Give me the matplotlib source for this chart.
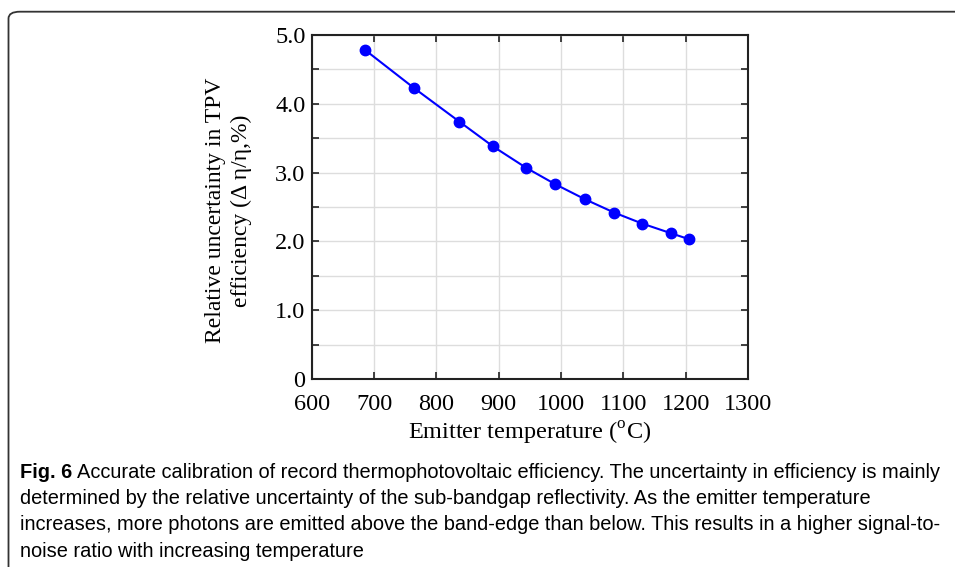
import numpy as np
import matplotlib
matplotlib.use("Agg")
import matplotlib.pyplot as plt
from matplotlib.patches import FancyBboxPatch

# data
temperature = [686, 764, 837, 891, 944, 991, 1039, 1085, 1130, 1176, 1206]
uncertainty = [4.78, 4.23, 3.74, 3.38, 3.07, 2.83, 2.61, 2.42, 2.26, 2.12, 2.03]

x_ticks = [600, 700, 800, 900, 1000, 1100, 1200, 1300]
y_ticks = [0, 0.5, 1.0, 1.5, 2.0, 2.5, 3.0, 3.5, 4.0, 4.5, 5.0]
y_tick_labels = ["0", "", "1.0", "", "2.0", "", "3.0", "", "4.0", "", "5.0"]

caption_lines = [
    "Accurate calibration of record thermophotovoltaic efficiency. The uncertainty in efficiency is mainly",
    "determined by the relative uncertainty of the sub-bandgap reflectivity. As the emitter temperature",
    "increases, more photons are emitted above the band-edge than below. This results in a higher signal-to-",
    "noise ratio with increasing temperature",
]

plt.rcParams["font.family"] = ["Liberation Serif", "DejaVu Serif"]
plt.rcParams["mathtext.fontset"] = "custom"
plt.rcParams["mathtext.rm"] = "Liberation Serif"

W, H = 955, 567
fig = plt.figure(figsize=(W / 100, H / 100), dpi=100)

# caption frame with rounded corner (open to the right and bottom)
frame = FancyBboxPatch((8.5 / W, -0.2), 1.2, 1 - 11.7 / H + 0.2,
                       boxstyle="round,pad=0,rounding_size=0.012",
                       transform=fig.transFigure, fill=False,
                       edgecolor="#333333", linewidth=1.3, clip_on=False)
fig.patches.append(frame)

ax = fig.add_axes([311.7 / W, 1 - 379 / H, (748 - 311.7) / W, (379 - 35) / H])
ax.plot(temperature, uncertainty, color="#0000FF", linewidth=1.5,
        marker="o", markersize=7.5)

ax.set_xlim(600, 1300)
ax.set_ylim(0, 5.0)
ax.set_xticks(x_ticks)
ax.set_yticks(y_ticks)
ax.set_yticklabels(y_tick_labels)
ax.tick_params(direction="in", top=True, right=True, length=5, width=1.2,
               labelsize=17.5, color="#222222")
ax.tick_params(axis="x", pad=11)
ax.tick_params(axis="y", pad=4.5)
ax.grid(True, color="#dddddd", linewidth=1.0)
for s in ax.spines.values():
    s.set_linewidth(1.5)
    s.set_color("#222222")

ax.set_xlabel(r"Emitter temperature ($^{\mathrm{o}}$C)", fontsize=17.5, labelpad=3)
ax.set_ylabel("Relative uncertainty in TPV\nefficiency (\u0394 \u03b7/\u03b7,%)",
              fontsize=17, linespacing=1.3)
ax.yaxis.set_label_coords((252 - 311.7) / 436.3, 0.49)

# caption, sized so the first line spans the same width as the reference
cap_font = ["Liberation Sans", "DejaVu Sans"]
baselines = [478, 504, 530, 557]
fs = 14
head = fig.text(20 / W, 1 - baselines[0] / H, "Fig. 6", fontsize=fs, fontweight="bold",
                family=cap_font, va="baseline", ha="left")
texts = []
for i, line in enumerate(caption_lines):
    texts.append(fig.text(20 / W, 1 - baselines[i] / H, line, fontsize=fs,
                          family=cap_font, va="baseline", ha="left"))

fig.canvas.draw()
r = fig.canvas.get_renderer()
head_w = head.get_window_extent(r).width
line_w = texts[0].get_window_extent(r).width
gap = 5
scale = (945 - 20 - gap) / (head_w + line_w)
for t in [head] + texts:
    t.set_fontsize(fs * scale)
fig.canvas.draw()
head_w = head.get_window_extent(r).width
texts[0].set_x((20 + head_w + gap) / W)

fig.savefig("out.png", dpi=100)
